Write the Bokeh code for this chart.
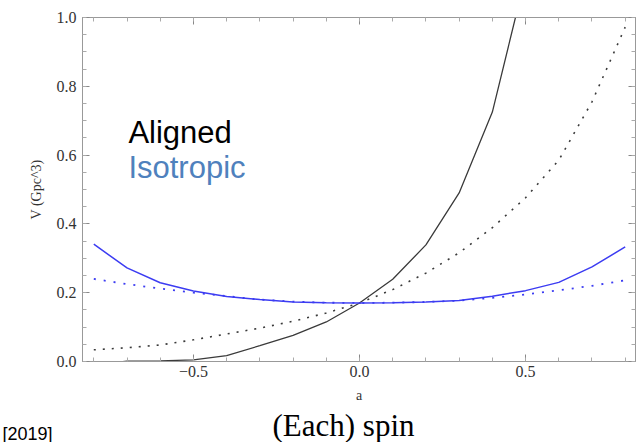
import math
from bokeh.plotting import figure
from bokeh.models import (Range1d, LinearAxis, SingleIntervalTicker, CustomJSTickFormatter, Label, Title)
from bokeh.embed import file_html
from bokeh.resources import INLINE

# ---- data ----
spin = [-0.8, -0.7, -0.6, -0.5, -0.4, -0.3, -0.2, -0.1, 0.0,
        0.1, 0.2, 0.3, 0.4, 0.5, 0.6, 0.7, 0.8]
aligned_solid = [-0.01, 0.001, 0.002, 0.005, 0.017, 0.046, 0.076, 0.115, 0.17,
                 0.239, 0.339, 0.49, 0.725, 1.12, 1.75, 2.6, 3.8]
aligned_dotted = [0.034, 0.04, 0.048, 0.063, 0.08, 0.097, 0.117, 0.141, 0.17,
                  0.209, 0.257, 0.316, 0.389, 0.476, 0.585, 0.755, 0.972]
iso_solid = [0.341, 0.272, 0.229, 0.205, 0.189, 0.18, 0.173, 0.171, 0.17,
             0.171, 0.173, 0.177, 0.19, 0.206, 0.23, 0.275, 0.333]
iso_dotted = [0.24, 0.225, 0.212, 0.2, 0.19, 0.18, 0.174, 0.171, 0.17,
              0.171, 0.173, 0.177, 0.185, 0.195, 0.207, 0.22, 0.236]

x_label = "a"
y_label = "V (Gpc^3)"
title_text = "(Each) spin"
legend_aligned = "Aligned"
legend_iso = "Isotropic"
corner_text = "[2019]"

BLACK = "#3a3a3a"
BLUE = "#3c3cf2"
ISO_TEXT = "#4F81BD"
SERIF = "Liberation Serif"
SANS = "Liberation Sans"

p = figure(width=639, height=442, output_backend="svg", toolbar_location=None,
           x_range=Range1d(-0.834, 0.831), y_range=Range1d(0.0, 1.0),
           min_border_left=82, min_border_right=4, min_border_top=17, min_border_bottom=0,
           x_axis_type=None, y_axis_type=None)
p.grid.visible = False
p.outline_line_color = "#999999"
p.background_fill_color = "white"
p.border_fill_color = "white"

fmt = CustomJSTickFormatter(code="""
  var s = Math.abs(tick).toFixed(1);
  return tick < -1e-9 ? '\u2212' + s : s;
""")
blank = CustomJSTickFormatter(code="return '';")

def make_axis(ticker, labels, label_text=None, label_standoff=6, title_standoff=10):
    ax = LinearAxis(ticker=ticker, formatter=fmt if labels else blank)
    ax.axis_line_color = "#999999"
    ax.major_tick_line_color = "#888888"
    ax.minor_tick_line_color = "#aaaaaa"
    ax.major_tick_in = 7
    ax.major_tick_out = 0
    ax.minor_tick_in = 4
    ax.minor_tick_out = 0
    if labels:
        ax.major_label_text_font = SERIF
        ax.major_label_text_font_size = "16px"
        ax.major_label_text_color = "#333333"
        ax.major_label_standoff = label_standoff
    else:
        ax.major_label_standoff = 0
    if label_text is not None:
        ax.axis_label = label_text
        ax.axis_label_text_font = SERIF
        ax.axis_label_text_font_style = "normal"
        ax.axis_label_text_font_size = "14px"
        ax.axis_label_text_color = "#333333"
        ax.axis_label_standoff = title_standoff
    return ax

xt = lambda: SingleIntervalTicker(interval=0.5, num_minor_ticks=5)
yt = lambda: SingleIntervalTicker(interval=0.2, num_minor_ticks=4)
p.add_layout(make_axis(xt(), True, x_label, label_standoff=4, title_standoff=8), "below")
p.add_layout(make_axis(yt(), True, y_label, label_standoff=6, title_standoff=10), "left")
p.add_layout(make_axis(xt(), False), "above")
p.add_layout(make_axis(yt(), False), "right")

p.add_layout(Title(text=title_text, align="left", offset=190, text_font=SERIF,
                   text_font_size="31px", text_font_style="normal", text_color="black",
                   standoff=0), "below")
p.add_layout(Title(text=corner_text, align="left", offset=-80, text_font=SANS,
                   text_font_size="18px", text_font_style="normal", text_color="black",
                   vertical_align="top", standoff=-38), "below")

p.line(spin, aligned_dotted, line_color=BLACK, line_width=1.6, line_dash="2 7")
p.line(spin, iso_dotted, line_color=BLUE, line_width=1.8, line_dash="2 8")
p.line(spin, aligned_solid, line_color=BLACK, line_width=1.3)
p.line(spin, iso_solid, line_color=BLUE, line_width=1.5)

def px_x(px):
    return (px - 359.0) / 332.0

def px_y(py):
    return (360.0 - py) / 343.0

p.add_layout(Label(x=px_x(128), y=px_y(132), text=legend_aligned, text_font=SANS,
                   text_font_size="31px", text_color="black", text_baseline="alphabetic"))
p.add_layout(Label(x=px_x(128), y=px_y(167), text=legend_iso, text_font=SANS,
                   text_font_size="31px", text_color=ISO_TEXT, text_baseline="alphabetic"))

open("out.html", "w").write(file_html(p, INLINE))
